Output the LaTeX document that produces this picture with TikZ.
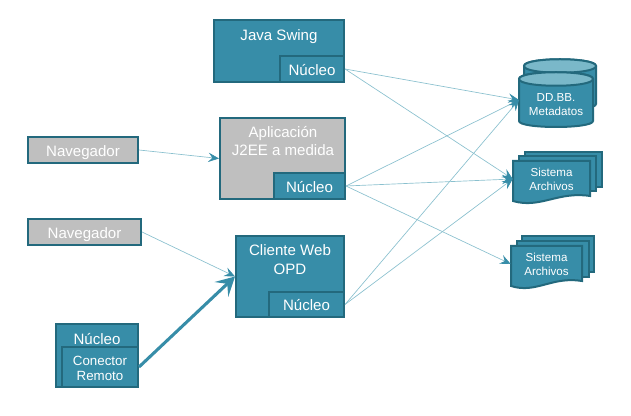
\documentclass[tikz,border=0pt]{standalone}
\usepackage{fontspec}
\setmainfont{Liberation Sans}
\usepackage{xcolor}
\usetikzlibrary{arrows.meta,positioning}
\definecolor{teal1}{HTML}{378DA8}
\definecolor{teal2}{HTML}{23697D}
\definecolor{teal3}{HTML}{8AC0CE}
\definecolor{teal4}{HTML}{7AB8C9}
\definecolor{gris1}{HTML}{BFBFBF}
\def\px{.75pt}
\begin{document}
\begin{tikzpicture}[x=.75pt,y=-.75pt,
caja/.style={draw=teal2,fill=teal1,line width=1.5pt,inner sep=0pt,text=white,font=\fontsize{11.3}{14}\selectfont,text height=9.4pt,text depth=0pt},
gris/.style={caja,fill=gris1},
linea/.style={text=white,font=\fontsize{11.3}{14}\selectfont,inner sep=0pt,text height=9.4pt,text depth=0pt},
grande/.style={text=white,align=center,font=\fontsize{11.3}{14.25}\selectfont,inner sep=0pt},
medio/.style={text=white,align=center,font=\fontsize{10}{11.8}\selectfont,inner sep=0pt},
chico/.style={text=white,align=center,font=\fontsize{8.7}{10.5}\selectfont,inner sep=0pt},
flecha/.style={draw=teal3,line width=.5pt,-{Stealth[length=8pt,width=7pt,inset=3pt,color=teal1]}},
gorda/.style={draw=teal1,line width=2.3pt,-{Stealth[length=14pt,width=15pt,inset=6pt,color=teal1]}}]
\useasboundingbox (0,0) rectangle (631,416);

% clientes
\node[caja,minimum width=130*\px,minimum height=62*\px] (java) at (279,51){};
\node[linea] (javatxt) at (279,34){Java Swing};
\node[caja,minimum width=64*\px,minimum height=26*\px] (nucJava) at (312,69){Núcleo};

\node[gris,minimum width=125*\px,minimum height=81*\px] (j2ee) at (282.5,158.5){};
\node[grande,font=\fontsize{11.3}{13.5}\selectfont] (j2eetxt) at (283,141.5){Aplicación\\J2EE a medida};
\node[caja,minimum width=71*\px,minimum height=26*\px] (nucJ2ee) at (309.5,186){Núcleo};

\node[caja,minimum width=108*\px,minimum height=81*\px] (web) at (290,276.5){};
\node[grande] (webtxt) at (290,259.5){Cliente Web\\OPD};
\node[caja,minimum width=75*\px,minimum height=25*\px] (nucWeb) at (306.5,304.5){Núcleo};

\node[gris,minimum width=110*\px,minimum height=26*\px] (nav1) at (83,150){Navegador};
\node[gris,minimum width=113*\px,minimum height=26*\px] (nav2) at (84.5,232){Navegador};

\node[caja,minimum width=82*\px,minimum height=63*\px] (nucleo) at (97,355.5){};
\node[linea] (nucleotxt) at (97,338){Núcleo};
\node[caja,minimum width=76*\px,minimum height=40*\px] (conector) at (100,367){};
\node[medio] (conectortxt) at (100,368.5){Conector\\Remoto};

% bases de datos
\foreach \x/\y/\w/\h in {524/59/72/51,519/72/74/55}{
\draw[caja] (\x,\y+7) -- (\x,\y+\h-6) .. controls (\x,\y+\h+2) and (\x+\w,\y+\h+2) .. (\x+\w,\y+\h-6) -- (\x+\w,\y+7)
 .. controls (\x+\w,\y-2) and (\x,\y-2) .. (\x,\y+7) -- cycle;
\draw[caja,fill=teal4] (\x,\y+7) .. controls (\x,\y-2) and (\x+\w,\y-2) .. (\x+\w,\y+7) .. controls (\x+\w,\y+16) and (\x,\y+16) .. (\x,\y+7) -- cycle;
}
\node[chico,minimum width=74*\px] (ddbb) at (556,104.5){DD.BB.\\Metadatos};
\coordinate (ddbbin) at (519,100);

% sistemas de archivos
\foreach \dx/\dy/\w/\h/\bx/\by in {525/152/77/35/519/156,522/236/72/36/517/241}{
\draw[caja] (\dx,\dy) rectangle (\dx+\w,\dy+\h);
\draw[caja] (\bx,\by) rectangle (\bx+\w,\by+\h);
}
\draw[caja] (513,161) -- (590,161) -- (590,196) .. controls (558,191) and (540,209) .. (513,201) -- cycle;
\node[chico,minimum width=77*\px] (sisA) at (551.5,179){Sistema\\Archivos};
\draw[caja] (511,246) -- (582,246) -- (582,281) .. controls (552,276) and (536,294) .. (511,286) -- cycle;
\node[chico,minimum width=71*\px] (sisB) at (546.5,264){Sistema\\Archivos};

% conexiones
\draw[flecha] (nav1.east) -- (j2ee.west);
\draw[flecha] (nav2.east) -- (web.west);
\draw[gorda] (conector.east) -- (web.west);
\foreach \a/\b in {nucJava/ddbbin,nucJava/sisA.west,nucJ2ee/ddbbin,nucJ2ee/sisA.west,nucJ2ee/sisB.west,nucWeb/ddbbin,nucWeb/sisA.west}{
\draw[flecha] (\a.east) -- (\b);
}
\end{tikzpicture}
\end{document}
